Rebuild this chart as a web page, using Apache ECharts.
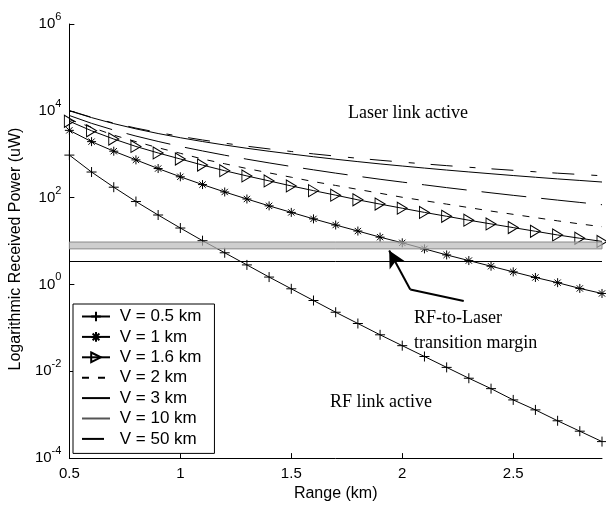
<!DOCTYPE html>
<html>
<head>
<meta charset="utf-8">
<script src="https://cdn.jsdelivr.net/npm/echarts@6/dist/echarts.min.js"></script>
<style>
  html, body { margin: 0; padding: 0; background: #fff; }
  #chart { width: 606px; height: 507px; }
</style>
</head>
<body>
<div id="chart"></div>
<script>
// ranges (km) where the curves were sampled
const rangeKm = [0.5, 0.6, 0.7, 0.8, 0.9, 1.0, 1.1, 1.2, 1.3, 1.4, 1.5, 1.6, 1.7,
  1.8, 1.9, 2.0, 2.1, 2.2, 2.3, 2.4, 2.5, 2.6, 2.7, 2.8, 2.9];

// received power (uW)
const v05 = [955, 389, 174, 81.3, 39.8, 19.95, 10.2, 5.37, 2.82, 1.48, 0.794, 0.427, 0.229,
  0.126, 0.0692, 0.0389, 0.0219, 0.0123, 0.00692, 0.00398, 0.00219, 0.00129, 0.000724, 0.000417, 0.00024];
const v1 = [3550, 1950, 1175, 741, 468, 302, 200, 135, 93, 64.6, 45.7, 32.4, 23.4,
  17.0, 12.3, 9.1, 6.6, 4.79, 3.55, 2.63, 1.95, 1.45, 1.10, 0.81, 0.62];
const v16 = [5750, 3470, 2240, 1510, 1070, 776, 562, 417, 316, 243, 186, 145, 114,
  89, 71, 57, 45.7, 37.2, 30.2, 24.8, 20.4, 16.8, 13.8, 11.6, 9.8];
const v2 = [6310, 4170, 2750, 1950, 1410, 1050, 776, 603, 468, 372, 295, 234, 191,
  155, 126, 102, 85, 71, 59, 49, 41.2, 34.7, 29.2, 24.8, 21.4];
const v3 = [7800, 5150, 3600, 2620, 1970, 1510, 1190, 950, 769, 631, 522, 437, 367,
  311, 265, 228, 197, 170, 148, 129, 113, 99.5, 87.7, 77.6, 68.7];
const v10 = [10000, 6980, 5070, 3840, 3000, 2400, 1960, 1630, 1370, 1170, 1010, 875, 766,
  675, 598, 535, 480, 432, 391, 355, 323, 295, 270, 249, 229];
const v50 = [10160, 7080, 5210, 4000, 3170, 2570, 2130, 1795, 1530, 1325, 1156, 1018, 904,
  807, 726, 658, 598, 546, 501, 461, 426, 394, 366, 342, 319];

// transition margin band and RF threshold
const bandLow = 6.6;
const bandHigh = 9.5;
const rfThreshold = 3.43;
// arrow: tail, knee, tip  [km, uW]
const arrowPts = [[2.277, 0.417], [2.036, 0.764], [1.941, 6.05]];

const sans = "'Liberation Sans', Arial, sans-serif";
const serif = "'Liberation Serif', 'Times New Roman', serif";

const plusSym = 'path://M5,0L5,10M0,5L10,5';
const starSym = 'path://M5,0L5,10M0,5L10,5M1.5,1.5L8.5,8.5M1.5,8.5L8.5,1.5';
const triSym = 'path://M0,0L10,5L0,10Z';

const dashShort = [7, 9];
const dashLong = [45, 15];
const dashDot = [22, 17, 6, 16];

const pairs = vals => rangeKm.map((x, i) => [x, vals[i]]);

const markerStyle = { color: 'rgba(0,0,0,0)', borderColor: '#000', borderWidth: 1 };
// no marker: keep the legend's fallback circle invisible too
const noMarker = { color: 'rgba(0,0,0,0)', borderColor: 'rgba(0,0,0,0)', borderWidth: 0 };

function curve(name, vals, symbol, size, dash) {
  return {
    name: name,
    type: 'line',
    data: pairs(vals),
    symbol: symbol || 'none',
    symbolSize: size || 0,
    showAllSymbol: true,
    lineStyle: { color: '#000', width: 1, type: dash || 'solid' },
    itemStyle: symbol ? markerStyle : noMarker,
    z: 2
  };
}

const chart = echarts.init(document.getElementById('chart'), null, { renderer: 'canvas' });

const option = {
  animation: false,
  backgroundColor: '#fff',
  grid: { left: 67, top: 24, right: 4, bottom: 47 },
  legend: {
    orient: 'vertical',
    left: 73,
    top: 304,
    selectedMode: false,
    backgroundColor: '#fff',
    borderColor: '#000',
    borderWidth: 1,
    borderRadius: 0,
    padding: [4, 13, 6, 8],
    itemGap: 3.4,
    itemWidth: 28,
    itemHeight: 12,
    formatter: n => ' ' + n,
    textStyle: { fontFamily: sans, fontSize: 17, color: '#000', lineHeight: 17 },
    data: [
      { name: 'V = 0.5 km' },
      { name: 'V = 1 km' },
      { name: 'V = 1.6 km' },
      { name: 'V = 2 km', lineStyle: { type: dashShort } },
      { name: 'V = 3 km', lineStyle: { type: dashLong } },
      { name: 'V = 10 km', lineStyle: { color: '#555' } },
      { name: 'V = 50 km', lineStyle: { type: dashDot } }
    ]
  },
  xAxis: {
    type: 'value',
    min: 0.5,
    max: 2.9,
    interval: 0.5,
    name: 'Range (km)',
    nameLocation: 'middle',
    nameGap: 26,
    nameTextStyle: { fontFamily: sans, fontSize: 16, color: '#000' },
    axisLine: { lineStyle: { color: '#000', width: 1 } },
    axisTick: { inside: true, length: 5, lineStyle: { color: '#000' }, customValues: [0.5, 1, 1.5, 2, 2.5] },
    axisLabel: {
      margin: 8, fontFamily: sans, fontSize: 15, color: '#000',
      customValues: [0.5, 1, 1.5, 2, 2.5],
      formatter: v => String(v)
    },
    splitLine: { show: false }
  },
  yAxis: {
    type: 'log',
    logBase: 100,
    min: 1e-4,
    max: 1e6,
    name: 'Logarithmic Received Power (uW)',
    nameLocation: 'middle',
    nameGap: 44,
    nameTextStyle: { fontFamily: sans, fontSize: 16, color: '#000', padding: [0, 16, 0, 0] },
    axisLine: { show: true, lineStyle: { color: '#000', width: 1 } },
    axisTick: { show: true, inside: true, length: 5, lineStyle: { color: '#000' } },
    axisLabel: {
      margin: 8,
      formatter: v => '{b|10}{e|' + Math.round(Math.log10(v)) + '}',
      rich: {
        b: { fontFamily: sans, fontSize: 15, color: '#000' },
        e: { fontFamily: sans, fontSize: 11, color: '#000', padding: [0, 0, 14, 0] }
      }
    },
    splitLine: { show: false },
    minorTick: { show: false }
  },
  series: [
    curve('V = 0.5 km', v05, plusSym, 10),
    curve('V = 1 km', v1, starSym, 9),
    curve('V = 1.6 km', v16, triSym, [10, 12]),
    curve('V = 2 km', v2, null, null, dashShort),
    curve('V = 3 km', v3, null, null, dashLong),
    curve('V = 10 km', v10),
    curve('V = 50 km', v50, null, null, dashDot),
    {
      name: 'margin',
      type: 'line',
      data: [],
      z: 6,
      markArea: {
        silent: true,
        z: 6,
        itemStyle: { color: 'rgba(185,185,185,0.7)', borderColor: '#8a8a8a', borderWidth: 1 },
        data: [[{ coord: [0.5, bandLow] }, { coord: [2.9, bandHigh] }]]
      },
      markLine: {
        silent: true,
        symbol: 'none',
        label: { show: false },
        lineStyle: { color: '#000', width: 1, type: 'solid' },
        data: [[{ coord: [0.5, rfThreshold] }, { coord: [2.9, rfThreshold] }]]
      }
    },
    {
      name: 'arrow',
      type: 'line',
      data: [],
      z: 7,
      markLine: {
        silent: true,
        label: { show: false },
        lineStyle: { color: '#000', width: 2, type: 'solid' },
        data: [
          [{ coord: arrowPts[0], symbol: 'none' }, { coord: arrowPts[1], symbol: 'none' }],
          [{ coord: arrowPts[1], symbol: 'none' }, { coord: arrowPts[2], symbol: 'arrow', symbolSize: [13, 17] }]
        ]
      }
    }
  ],
  graphic: [
    { type: 'text', left: 348, top: 104, style: { text: 'Laser link active', font: '18px ' + serif, fill: '#000' } },
    { type: 'text', left: 414, top: 309, style: { text: 'RF-to-Laser', font: '18px ' + serif, fill: '#000' } },
    { type: 'text', left: 414, top: 334, style: { text: 'transition margin', font: '18px ' + serif, fill: '#000' } },
    { type: 'text', left: 330, top: 393, style: { text: 'RF link active', font: '18px ' + serif, fill: '#000' } }
  ]
};

chart.setOption(option);
</script>
</body>
</html>
